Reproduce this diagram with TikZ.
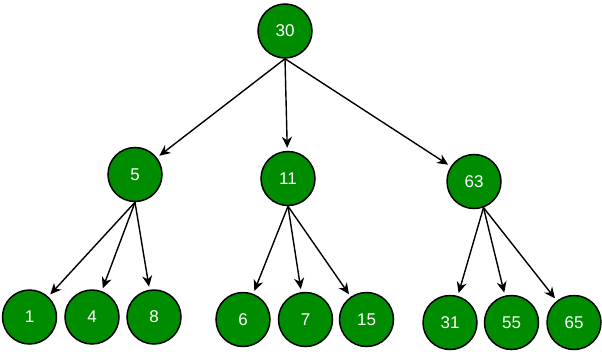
\documentclass[tikz,border=0pt]{standalone}
\usepackage{fontspec}
\setmainfont{Liberation Sans}
\usepackage{xcolor}
\usetikzlibrary{arrows.meta}
\definecolor{leafgreen}{RGB}{0,140,0}
\tikzset{
  tnode/.style={circle,draw=black,fill=leafgreen,line width=1.5pt,minimum size=54pt,inner sep=0pt,
    text=white,font=\fontsize{17}{20}\selectfont},
  arr/.style={-{Stealth[length=11pt,width=10pt,inset=3.5pt]},line width=1.4pt,shorten >=3pt},
}
\begin{document}
\begin{tikzpicture}[x=1pt,y=-1pt]
  \useasboundingbox (0,0) rectangle (602,351);
  % root and second level
  \node[tnode] (n30) at (285,31) {30};
  \node[tnode] (n5)  at (135,174.5) {5};
  \node[tnode] (n11) at (288,178.5) {11};
  \node[tnode] (n63) at (474,181.5) {63};
  % leaves
  \node[tnode] (n1)  at (29.5,317) {1};
  \node[tnode] (n4)  at (92,317) {4};
  \node[tnode] (n8)  at (154,317) {8};
  \node[tnode] (n6)  at (243,319.5) {6};
  \node[tnode] (n7)  at (305.5,319.5) {7};
  \node[tnode] (n15) at (366.5,319.5) {15};
  \node[tnode] (n31) at (450,322.5) {31};
  \node[tnode] (n55) at (511.5,322.5) {55};
  \node[tnode] (n65) at (574,322.5) {65};
  % edges
  \foreach \c in {n5,n11,n63} { \draw[arr] (n30.south) -- (\c); }
  \foreach \c in {n1,n4,n8} { \draw[arr] (n5.south) -- (\c); }
  \foreach \c in {n6,n7,n15} { \draw[arr] (n11.south) -- (\c); }
  \foreach \c in {n31,n55,n65} { \draw[arr] (n63.-70) -- (\c); }
\end{tikzpicture}
\end{document}
